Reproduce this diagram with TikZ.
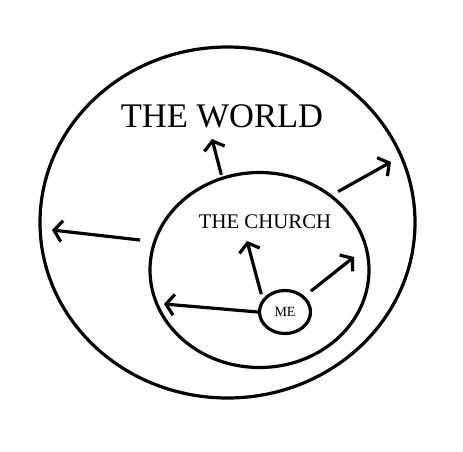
\documentclass[tikz,border=0pt]{standalone}
\usepackage{fontspec}
\setmainfont{Liberation Serif}
\usetikzlibrary{arrows.meta,shapes.geometric,positioning}
\tikzset{
  ring/.style      = {ellipse, draw, line width=3.2pt, inner sep=0pt},
  push/.style      = {-{Straight Barb[length=8pt,width=21pt]}, line width=3.2pt},
  worldfont/.style = {font=\fontsize{34.5}{37}\selectfont},
  churchfont/.style= {font=\fontsize{20.8}{23}\selectfont},
  mefont/.style    = {font=\fontsize{14}{15}\selectfont},
}

\begin{document}
\begin{tikzpicture}[x=1pt,y=-1pt]
  \useasboundingbox (0,0) rectangle (463,451);

  % =======================================================================
  %  The three rings
  % =======================================================================
  \node[ring,minimum width=375pt,minimum height=351pt] (world)  at (227.5,222.5) {};
  \node[ring,minimum width=219pt,minimum height=195pt] (church) at (259.5,270) {};
  \node[ring,mefont,minimum width=51pt,minimum height=43pt] (me) at (285,312) {ME};

  \node[worldfont]  (worldlabel)  at (222,116) {THE WORLD};
  \node[churchfont] (churchlabel) at (265,222) {THE CHURCH};

  % ---- where the arrows point to ---------------------------------------
  \coordinate (c-left)  at (164,304);
  \coordinate (c-up)    at (247,241);
  \coordinate (c-right) at (354,257);
  \coordinate (w-left)  at (52,230);
  \coordinate (w-top)   at (212,139);
  \coordinate (w-right) at (391,162);

  % out of me, into the church
  \draw[push] (me.180) -- (c-left);
  \draw[push,shorten <=5pt] (me.150) -- (c-up);
  \draw[push,shorten <=8pt] (me.39) -- (c-right);

  % out of the church, into the world
  \draw[push,shorten <=13pt] (church.165) -- (w-left);
  \draw[push,shorten <=2pt] (church.112) -- (w-top);
  \draw[push,shorten <=7pt] (church.46) -- (w-right);
\end{tikzpicture}
\end{document}
